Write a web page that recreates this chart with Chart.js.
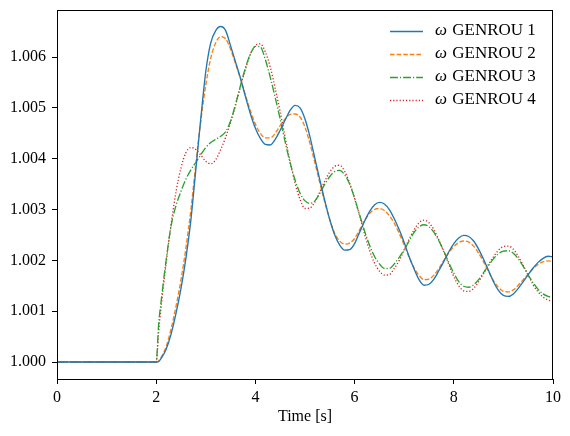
<!DOCTYPE html>
<html>
<head>
<meta charset="utf-8">
<script src="https://cdn.jsdelivr.net/npm/chart.js@4"></script>
<style>
	body { margin: 0; background: #fff; }
	canvas { display: block; }
</style>
</head>
<body>
<canvas id="omegaChart" width="570" height="436"></canvas>
<script>
	// time axis [s]
	var time = [0, 2, 2.05, 2.1, 2.2, 2.3, 2.4, 2.5, 2.6, 2.7, 2.8, 2.9, 3.0, 3.1, 3.2, 3.3, 3.4, 3.5, 3.6, 3.7, 3.8, 3.9,
		4.0, 4.1, 4.2, 4.3, 4.4, 4.5, 4.6, 4.7, 4.8, 4.9, 5.0, 5.1, 5.2, 5.3, 5.4, 5.5, 5.6, 5.7, 5.8, 5.9,
		6.0, 6.1, 6.2, 6.3, 6.4, 6.5, 6.6, 6.7, 6.8, 6.9, 7.0, 7.1, 7.2, 7.3, 7.4, 7.5, 7.6, 7.7, 7.8, 7.9,
		8.0, 8.1, 8.2, 8.3, 8.4, 8.5, 8.6, 8.7, 8.8, 8.9, 9.0, 9.1, 9.2, 9.3, 9.4, 9.5, 9.6, 9.7, 9.8, 9.9, 10.0];

	// rotor speed of each machine [pu]
	var omegaGenrou1 = [1.00000, 1.00000, 1.00001, 1.00007, 1.00025, 1.00055, 1.00096, 1.00145, 1.00205, 1.00280, 1.00380, 1.00480,
		1.00572, 1.00628, 1.00652, 1.00660, 1.00652, 1.00622, 1.00590, 1.00558, 1.00522, 1.00488,
		1.00460, 1.00440, 1.00428, 1.00427, 1.00438, 1.00456, 1.00476, 1.00495, 1.00505, 1.00500,
		1.00478, 1.00443, 1.00400, 1.00358, 1.00317, 1.00280, 1.00250, 1.00230, 1.00220, 1.00221,
		1.00233, 1.00255, 1.00277, 1.00296, 1.00309, 1.00314, 1.00311, 1.00300, 1.00282, 1.00260,
		1.00235, 1.00207, 1.00183, 1.00162, 1.00151, 1.00153, 1.00163, 1.00180, 1.00198, 1.00217,
		1.00233, 1.00244, 1.00249, 1.00247, 1.00238, 1.00222, 1.00202, 1.00180, 1.00158, 1.00141,
		1.00131, 1.00129, 1.00134, 1.00145, 1.00158, 1.00172, 1.00185, 1.00196, 1.00204, 1.00208, 1.00207];

	var omegaGenrou2 = [1.00000, 1.00000, 1.00002, 1.00009, 1.00030, 1.00065, 1.00110, 1.00162, 1.00225, 1.00300, 1.00390, 1.00475,
		1.00545, 1.00598, 1.00628, 1.00640, 1.00636, 1.00615, 1.00587, 1.00557, 1.00525, 1.00494,
		1.00468, 1.00450, 1.00441, 1.00441, 1.00450, 1.00465, 1.00478, 1.00487, 1.00488, 1.00482,
		1.00462, 1.00430, 1.00392, 1.00352, 1.00314, 1.00280, 1.00253, 1.00238, 1.00232, 1.00234,
		1.00243, 1.00260, 1.00278, 1.00292, 1.00300, 1.00302, 1.00298, 1.00288, 1.00273, 1.00253,
		1.00230, 1.00206, 1.00185, 1.00170, 1.00162, 1.00163, 1.00171, 1.00184, 1.00200, 1.00215,
		1.00227, 1.00235, 1.00238, 1.00236, 1.00228, 1.00214, 1.00197, 1.00178, 1.00160, 1.00147,
		1.00139, 1.00138, 1.00142, 1.00151, 1.00162, 1.00173, 1.00184, 1.00192, 1.00197, 1.00199, 1.00198];

	var omegaGenrou3 = [1.00000, 1.00000, 1.00075, 1.00120, 1.00200, 1.00268, 1.00308, 1.00336, 1.00360, 1.00378, 1.00393, 1.00408,
		1.00422, 1.00432, 1.00438, 1.00444, 1.00453, 1.00474, 1.00507, 1.00544, 1.00579, 1.00606,
		1.00621, 1.00620, 1.00595, 1.00560, 1.00520, 1.00478, 1.00433, 1.00392, 1.00358, 1.00332,
		1.00317, 1.00312, 1.00317, 1.00332, 1.00350, 1.00365, 1.00375, 1.00377, 1.00368, 1.00350,
		1.00322, 1.00290, 1.00258, 1.00230, 1.00208, 1.00193, 1.00184, 1.00184, 1.00193, 1.00206,
		1.00221, 1.00238, 1.00255, 1.00266, 1.00270, 1.00266, 1.00255, 1.00238, 1.00218, 1.00195,
		1.00175, 1.00158, 1.00149, 1.00147, 1.00152, 1.00162, 1.00176, 1.00190, 1.00203, 1.00213,
		1.00218, 1.00219, 1.00214, 1.00203, 1.00188, 1.00171, 1.00156, 1.00143, 1.00134, 1.00129, 1.00127];

	var omegaGenrou4 = [1.00000, 1.00000, 1.00060, 1.00110, 1.00195, 1.00270, 1.00335, 1.00382, 1.00412, 1.00422, 1.00418, 1.00407,
		1.00395, 1.00390, 1.00398, 1.00418, 1.00442, 1.00472, 1.00505, 1.00542, 1.00576, 1.00606,
		1.00622, 1.00626, 1.00610, 1.00580, 1.00538, 1.00492, 1.00442, 1.00394, 1.00352, 1.00320,
		1.00302, 1.00303, 1.00315, 1.00335, 1.00356, 1.00374, 1.00385, 1.00387, 1.00375, 1.00352,
		1.00322, 1.00288, 1.00252, 1.00220, 1.00195, 1.00179, 1.00171, 1.00172, 1.00184, 1.00200,
		1.00220, 1.00242, 1.00260, 1.00274, 1.00279, 1.00274, 1.00260, 1.00240, 1.00217, 1.00192,
		1.00168, 1.00150, 1.00140, 1.00139, 1.00145, 1.00158, 1.00174, 1.00192, 1.00207, 1.00220,
		1.00227, 1.00228, 1.00222, 1.00208, 1.00190, 1.00171, 1.00152, 1.00138, 1.00128, 1.00122, 1.00120];

	var seriesLabels = ['\u03C9 GENROU 1', '\u03C9 GENROU 2', '\u03C9 GENROU 3', '\u03C9 GENROU 4'];
	var xTicks = [0, 2, 4, 6, 8, 10];
	var yTicks = [1.000, 1.001, 1.002, 1.003, 1.004, 1.005, 1.006];

	var chartColors = ['#1f77b4', '#ff7f0e', '#2ca02c', '#d62728'];
	var chartDashes = [[], [4.6, 2], [7.9, 2, 1.2, 2], [1.2, 2]];
	var fontFamily = "'Liberation Serif', 'DejaVu Serif', serif";

	function toPoints(values) {
		return values.map(function (v, i) {
			return { x: time[i], y: v };
		});
	}

	var allSeries = [omegaGenrou1, omegaGenrou2, omegaGenrou3, omegaGenrou4];
	var datasets = allSeries.map(function (values, i) {
		return {
			label: seriesLabels[i],
			data: toPoints(values),
			borderColor: chartColors[i],
			borderDash: chartDashes[i],
			borderWidth: 1.35,
			pointRadius: 0,
			fill: false,
			cubicInterpolationMode: 'monotone'
		};
	});

	// top/right spines, like a matplotlib frame
	var framePlugin = {
		id: 'frame',
		afterDraw: function (chart) {
			var a = chart.chartArea;
			var ctx = chart.ctx;
			ctx.save();
			ctx.strokeStyle = '#000';
			ctx.lineWidth = 1;
			ctx.strokeRect(Math.round(a.left) + 0.5, Math.round(a.top) + 0.5,
				Math.round(a.right - a.left) - 1, Math.round(a.bottom - a.top));
			ctx.restore();
		}
	};

	// legend in the upper right corner, showing the dash pattern of each line
	var lineLegendPlugin = {
		id: 'lineLegend',
		afterDraw: function (chart) {
			var ctx = chart.ctx;
			var a = chart.chartArea;
			var x0 = a.right - 163;
			var y0 = a.top + 21;
			ctx.save();
			ctx.textBaseline = 'middle';
			ctx.fillStyle = '#000';
			chart.data.datasets.forEach(function (ds, i) {
				var y = y0 + i * 23;
				ctx.strokeStyle = ds.borderColor;
				ctx.lineWidth = ds.borderWidth;
				ctx.setLineDash(ds.borderDash);
				ctx.beginPath();
				ctx.moveTo(x0, y + 0.5);
				ctx.lineTo(x0 + 33, y + 0.5);
				ctx.stroke();
				ctx.setLineDash([]);
				// greek symbol in italic, like math text
				var sym = ds.label.charAt(0);
				var rest = ds.label.slice(1);
				ctx.font = 'italic 17px ' + fontFamily;
				ctx.fillText(sym, x0 + 45, y);
				var w = ctx.measureText(sym).width;
				ctx.font = '17px ' + fontFamily;
				ctx.fillText(rest, x0 + 45 + w + 1, y);
			});
			ctx.restore();
		}
	};

	var ctx = document.getElementById('omegaChart').getContext('2d');
	var omegaChart = new Chart(ctx, {
		type: 'line',
		data: { datasets: datasets },
		options: {
			responsive: false,
			animation: false,
			devicePixelRatio: 1,
			layout: {
				padding: { left: 0, top: 10, right: 17, bottom: 0 }
			},
			plugins: {
				legend: { display: false },
				tooltip: { enabled: false }
			},
			scales: {
				x: {
					type: 'linear',
					min: 0,
					max: 10,
					afterBuildTicks: function (scale) {
						scale.ticks = xTicks.map(function (v) { return { value: v }; });
					},
					afterFit: function (scale) {
						scale.height = 57;
						scale.paddingLeft = 0;
						scale.paddingRight = 0;
					},
					ticks: {
						color: '#000',
						padding: 4,
						maxRotation: 0,
						font: { family: fontFamily, size: 16 },
						callback: function (v) { return String(v); }
					},
					grid: {
						drawOnChartArea: false,
						drawTicks: true,
						tickLength: 5,
						color: '#000'
					},
					border: { display: true, color: '#000', width: 1 },
					title: {
						display: true,
						text: 'Time [s]',
						color: '#000',
						font: { family: fontFamily, size: 16 },
						padding: { top: 0, bottom: 10 }
					}
				},
				y: {
					type: 'linear',
					min: 0.999666,
					max: 1.006925,
					afterBuildTicks: function (scale) {
						scale.ticks = yTicks.map(function (v) { return { value: v }; });
					},
					afterFit: function (scale) {
						scale.width = 57;
						scale.paddingTop = 0;
						scale.paddingBottom = 0;
					},
					ticks: {
						color: '#000',
						padding: 6,
						font: { family: fontFamily, size: 16 },
						callback: function (v) { return v.toFixed(3); }
					},
					grid: {
						drawOnChartArea: false,
						drawTicks: true,
						tickLength: 5,
						color: '#000'
					},
					border: { display: true, color: '#000', width: 1 }
				}
			}
		},
		plugins: [framePlugin, lineLegendPlugin]
	});
</script>
</body>
</html>
